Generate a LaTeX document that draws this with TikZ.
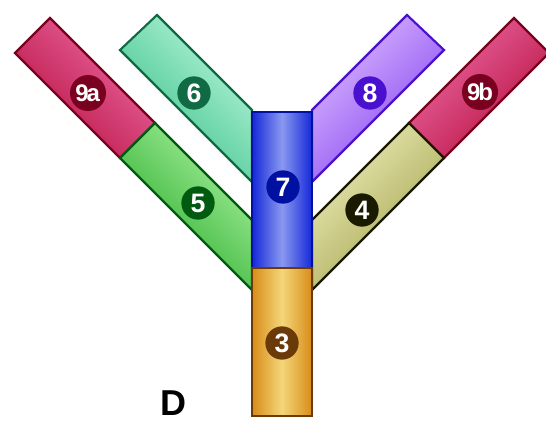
\documentclass[tikz,border=0pt]{standalone}
\usepackage{fontspec}
\setsansfont{Liberation Sans}
\definecolor{redD}{HTML}{B8103F}\definecolor{redL}{HTML}{EC6AA4}\definecolor{redB}{HTML}{7A0020}
\definecolor{tealD}{HTML}{30BC84}\definecolor{tealL}{HTML}{B8F5DA}\definecolor{tealB}{HTML}{106A44}
\definecolor{grnD}{HTML}{20A820}\definecolor{grnL}{HTML}{A8F0A0}\definecolor{grnB}{HTML}{005A10}
\definecolor{bluD}{HTML}{1428D8}\definecolor{bluL}{HTML}{8A98F0}\definecolor{bluB}{HTML}{0010A0}
\definecolor{vioD}{HTML}{8040F0}\definecolor{vioL}{HTML}{DCB8FF}\definecolor{vioB}{HTML}{4A10D0}
\definecolor{oliD}{HTML}{A0A048}\definecolor{oliL}{HTML}{ECECB8}\definecolor{oliB}{HTML}{1A1A00}
\definecolor{golD}{HTML}{D88C18}\definecolor{golL}{HTML}{F4D67A}\definecolor{golB}{HTML}{6A3A08}
\begin{document}
\begin{tikzpicture}[x=0.75pt,y=-0.75pt,
  barL/.style={line width=1.6pt, line join=miter, top color=#1L, bottom color=#1D, shading angle=-45, draw=#1B},
  barR/.style={line width=1.6pt, line join=miter, top color=#1L, bottom color=#1D, shading angle=45, draw=#1B},
  bar/.style={line width=1.6pt, line join=miter, left color=#1D, right color=#1D, middle color=#1L, draw=#1B},
  lab/.style={circle, fill=#1, inner sep=0pt, minimum size=25pt, text=white,
    font=\sffamily\bfseries\fontsize{20}{20}\selectfont},
  labs/.style={lab=#1, minimum size=27pt, font=\sffamily\bfseries\fontsize{18}{18}\selectfont},
]
\useasboundingbox (0,0) rectangle (546,432);
\fill[white] (0,0) rectangle (546,432);
% left arms
\shade[barL=teal] (120,50) -- (157,15) -- (252,110) -- (252,182) -- cycle;
\shade[barL=red] (15,53) -- (50,18) -- (155,123) -- (120,158) -- cycle;
\shade[barL=grn] (120,158) -- (155,123) -- (252,220) -- (252,290) -- cycle;
% right arms
\shade[barR=vio] (444,50) -- (407,15) -- (312,110) -- (312,182) -- cycle;
\shade[barR=red] (549,53) -- (514,18) -- (409,123) -- (444,158) -- cycle;
\shade[barR=oli] (444,158) -- (409,123) -- (312,220) -- (312,290) -- cycle;
% stem
\shade[bar=blu] (252,112) rectangle (312,268);
\shade[bar=gol] (252,268) rectangle (312,416);
% labels
\node[labs=redB] (n9a) at (88,93) {\kern-0.5pt9\kern-1.5pt a};
\node[lab=tealB] (n6) at (194,93) {6};
\node[lab=grnB] (n5) at (198,203) {5};
\node[lab=bluB] (n7) at (283,187) {7};
\node[lab=vioB] (n8) at (370,93) {8};
\node[labs=redB] (n9b) at (480,92) {9\kern-1.5pt b};
\node[lab=oliB] (n4) at (362,210) {4};
\node[lab=golB] (n3) at (282,343) {3};
\node[font=\sffamily\bfseries\fontsize{27}{27}\selectfont] (D) at (173,403) {D};
\end{tikzpicture}
\end{document}
